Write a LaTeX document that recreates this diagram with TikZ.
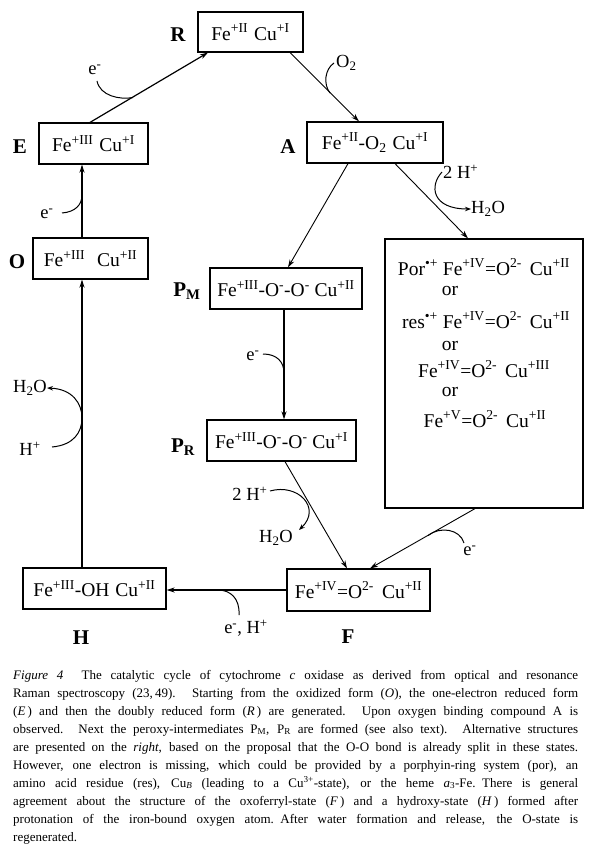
\documentclass[tikz,border=0pt]{standalone}
\usepackage{fontspec}
\setmainfont{Liberation Serif}
\usetikzlibrary{arrows.meta,calc}
\newcommand\sps[1]{\textsuperscript{#1}}
\newcommand\sbs[1]{\textsubscript{#1}}
\newcommand\bxf{\fontsize{19.5}{21}\selectfont}
\newcommand\lbf{\bfseries\fontsize{21}{22}\selectfont}
\newcommand\sdf{\fontsize{18.5}{20}\selectfont}
\newcommand\capf{\fontsize{13}{18}\selectfont}
\newcommand\capline[1]{\makebox[565pt][s]{#1}\\}
\begin{document}
\begin{tikzpicture}[x=1pt,y=-1pt,
  box/.style={draw, line width=1.2pt, inner sep=0pt, font=\bxf},
  btxt/.style={inner sep=0pt, font=\bxf},
  lab/.style={inner sep=0pt, font=\lbf},
  side/.style={inner sep=0pt, font=\sdf},
  arrmid/.style={line width=1.2pt, -{Stealth[length=8pt,width=5pt]}},
  arrthin/.style={line width=0.9pt, -{Stealth[length=8pt,width=5pt]}},
  arrthick/.style={line width=1.6pt, -{Stealth[length=8pt,width=5pt]}},
  curv/.style={line width=1pt},
  curvarr/.style={line width=1pt, -{Stealth[length=6pt,width=4.5pt]}}]
\useasboundingbox (0,0) rectangle (591,850);
\fill[white] (0,0) rectangle (591,850);

% boxes
\node[box, minimum width=105pt, minimum height=40pt] (R) at (250.5,32) {Fe\sps{+II}\hspace{6pt}Cu\sps{+I}};
\node[box, minimum width=109pt, minimum height=41pt] (E) at (93.5,143.5) {Fe\sps{+III}\hspace{6pt}Cu\sps{+I}};
\node[box, minimum width=136pt, minimum height=41pt] (A) at (375,142.5) {Fe\sps{+II}-O\sbs{2}\hspace{6pt}Cu\sps{+I}};
\node[box, minimum width=115pt, minimum height=41pt] (O) at (90.5,258.5) {Fe\sps{+III}\hspace{12pt}Cu\sps{+II}};
\node[box, minimum width=152pt, minimum height=41pt] (PM) at (286,288.5) {Fe\sps{+III}-O\sps{-}-O\sps{-} Cu\sps{+II}};
\node[box, minimum width=149pt, minimum height=41pt] (PR) at (281.5,440.5) {Fe\sps{+III}-O\sps{-}-O\sps{-} Cu\sps{+I}};
\node[box, minimum width=198pt, minimum height=269pt] (Big) at (484,373.5) {};
\node[box, minimum width=143pt, minimum height=41pt] (H) at (94.5,588.5) {Fe\sps{+III}-OH\hspace{6pt}Cu\sps{+II}};
\node[box, minimum width=143pt, minimum height=42pt] (F) at (358.5,590) {Fe\sps{+IV}=O\sps{2-}\hspace{8pt}Cu\sps{+II}};

% alternatives in big box
\node[btxt] (b1) at (484,267) {Por\sps{\textbullet+} Fe\sps{+IV}=O\sps{2-}\hspace{8pt}Cu\sps{+II}};
\node[btxt] (or1) at (450,291) {or};
\node[btxt] (b2) at (486,320) {res\sps{\textbullet+} Fe\sps{+IV}=O\sps{2-}\hspace{8pt}Cu\sps{+II}};
\node[btxt] (or2) at (450,346) {or};
\node[btxt] (b3) at (484,369) {Fe\sps{+IV}=O\sps{2-}\hspace{8pt}Cu\sps{+III}};
\node[btxt] (or3) at (450,392) {or};
\node[btxt] (b4) at (485,419) {Fe\sps{+V}=O\sps{2-}\hspace{8pt}Cu\sps{+II}};

% state labels
\node[lab] (lR) at (178,35) {R};
\node[lab] (lE) at (20,147) {E};
\node[lab] (lA) at (288,147) {A};
\node[lab] (lO) at (17,262) {O};
\node[lab] (lPM) at (187,291) {P\textsubscript{M}};
\node[lab] (lPR) at (183,447) {P\textsubscript{R}};
\node[lab] (lH) at (81,638) {H};
\node[lab] (lF) at (348,637) {F};

% main connectors
\draw[arrmid] ([xshift=-3.5pt]E.north) -- ([xshift=-42.5pt]R.south);
\draw[arrthin] ([xshift=39.5pt]R.south) -- ([xshift=-16pt]A.north);
\draw[arrthin] ([xshift=-27pt]A.south) -- ([xshift=2pt]PM.north);
\draw[arrthin] ([xshift=20pt]A.south) -- ([xshift=-16pt]Big.north);
\draw[arrthick] ([xshift=-2pt]PM.south) -- ([xshift=2.5pt]PR.north);
\draw[arrthin] ([xshift=3.5pt]PR.south) -- ([xshift=-11.5pt]F.north);
\draw[arrthin] ([xshift=-9pt]Big.south) -- ([xshift=11.5pt]F.north);
\draw[arrthick] (F.west) -- (F.west -| H.east);
\draw[arrthick] ([xshift=-12.5pt]H.north) -- ([xshift=-8.5pt]O.south);
\draw[arrthick] ([xshift=-8.5pt]O.north) -- ([xshift=-11.5pt]E.south);

% side reactions
\node[side] (eER) at (95,70) {e\sps{-}};
\coordinate (cER1) at (97,81);
\coordinate (cER2) at (133,97.5);
\draw[curv] (cER1) .. controls (100,96) and (120,100) .. (cER2);

\node[side, anchor=west] (o2) at (336,63) {O\sbs{2}};
\coordinate (cO1) at (334,63);
\coordinate (cO2) at (330,93);
\draw[curv] (cO1) .. controls (325,69) and (323,84) .. (cO2);

\node[side, anchor=west] (hA) at (443,172) {2 H\sps{+}};
\node[side, anchor=west] (wA) at (471,209) {H\sbs{2}O};
\coordinate (cA1) at (442,172);
\draw[curvarr] (cA1) .. controls (429,186) and (432,209) .. (wA.west);

\node[side] (ePM) at (253,356) {e\sps{-}};
\coordinate (cP1) at (263,354);
\coordinate (cP2) at (284,373);
\draw[curv] (cP1) .. controls (277,354) and (284,362) .. (cP2);

\node[side] (hPR) at (250,494) {2 H\sps{+}};
\node[side] (wPR) at (276,538) {H\sbs{2}O};
\coordinate (cR1) at (270,491);
\coordinate (cR2) at (299,530);
\draw[curvarr] (cR1) .. controls (298,483) and (322,508) .. (cR2);

\node[side] (eB) at (470,551) {e\sps{-}};
\coordinate (cB1) at (464,543);
\coordinate (cB2) at (428,535.5);
\draw[curv] (cB1) .. controls (460,529) and (440,526) .. (cB2);

\node[side] (eF) at (246,628) {e\sps{-}, H\sps{+}};
\coordinate (cF1) at (239,615);
\coordinate (cF2) at (218,590);
\draw[curv] (cF1) .. controls (240,598) and (230,590) .. (cF2);

\node[side] (hH) at (30,449) {H\sps{+}};
\node[side] (wH) at (30,388) {H\sbs{2}O};
\coordinate (cH1) at (52,447);
\coordinate (cH2) at (82,418);
\draw[curv] (cH1) .. controls (74,445) and (82,432) .. (cH2);
\draw[curvarr] (cH2) .. controls (82,403) and (72,389) .. (wH.east);

\node[side] (eO) at (47,214) {e\sps{-}};
\coordinate (cE1) at (62,213);
\coordinate (cE2) at (82,195);
\draw[curv] (cE1) .. controls (75,212) and (82,205) .. (cE2);

% caption
\node[anchor=base west, inner sep=0pt, font=\capf] (cap) at (13,679) {\begin{minipage}[t]{565pt}\setlength{\parindent}{0pt}%
\capline{\textit{Figure 4}\hspace{1.4em}The catalytic cycle of cytochrome \textit{c} oxidase as derived from optical and resonance}
\capline{Raman spectroscopy (23,\,49). Starting from the oxidized form (\textit{O}), the one-electron reduced form}
\capline{(\textit{E}\,) and then the doubly reduced form (\textit{R}\,) are generated. Upon oxygen binding compound A is}
\capline{observed. Next the peroxy-intermediates P\sbs{M}, P\sbs{R} are formed (see also text). Alternative structures}
\capline{are presented on the \textit{right}, based on the proposal that the O-O bond is already split in these states.}
\capline{However, one electron is missing, which could be provided by a porphyin-ring system (por), an}
\capline{amino acid residue (res), Cu\sbs{\textit{B}} (leading to a Cu\sps{3+}-state), or the heme \textit{a}\sbs{3}-Fe.\hspace{0.5em}There is general}
\capline{agreement about the structure of the oxoferryl-state (\textit{F}\,) and a hydroxy-state (\textit{H}\,) formed after}
\capline{protonation of the iron-bound oxygen atom.\hspace{0.5em}After water formation and release, the O-state is}
regenerated.
\end{minipage}};
\end{tikzpicture}
\end{document}
